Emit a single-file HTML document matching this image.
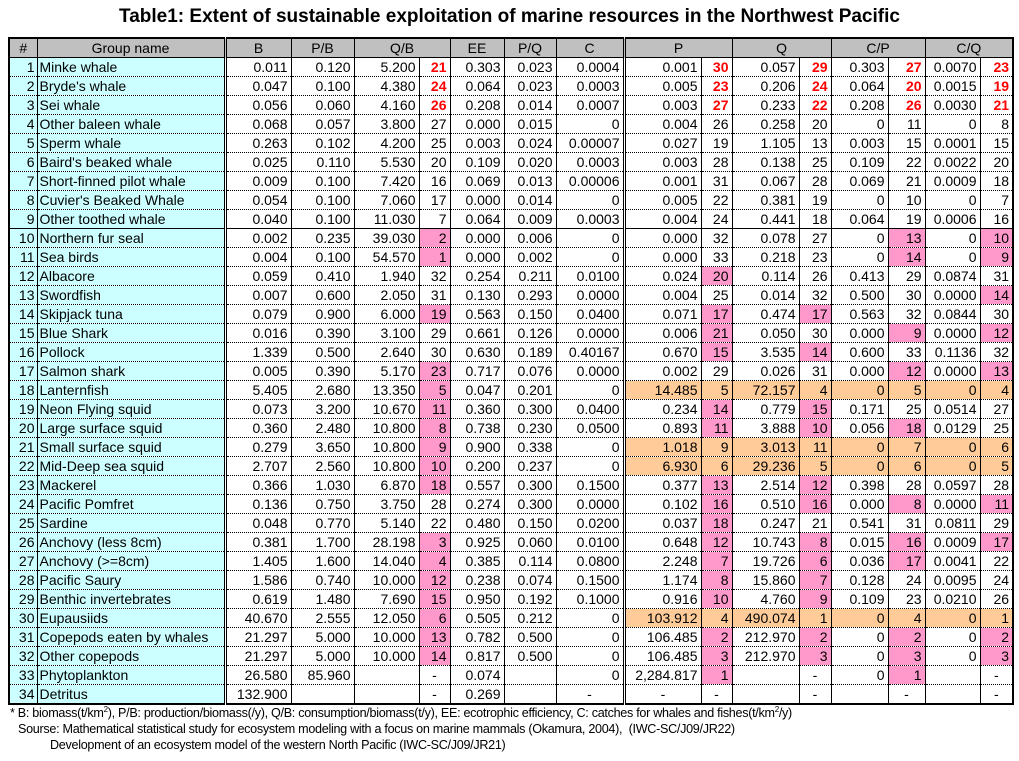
<!DOCTYPE html>
<html><head><meta charset="utf-8">
<style>
body{margin:0;width:1019px;height:761px;background:#fff;position:relative;overflow:hidden;font-family:"Liberation Sans",Arial,sans-serif;}
.t{position:absolute;left:0;top:6px;width:1019px;text-align:center;font-weight:bold;font-size:19px;}
table{position:absolute;left:8px;top:37px;border-collapse:collapse;table-layout:fixed;width:1004px;font-size:14px;border:2px solid #000;}
td{height:18px;line-height:17px;padding:0 3px;border-left:1px solid #000;border-right:1px solid #000;border-bottom:1px dotted #000;text-align:right;white-space:nowrap;overflow:hidden;}
th{height:18px;font-weight:normal;background:#c0c0c0;border:1px solid #000;font-size:14px;padding:0;}
td.n{text-align:left;padding-left:2px;background:#ccffff;border-right:3px double #000;border-left:1px solid #000;}
td.h{background:#ccffff;padding-right:2px;}
td.c,th.c{border-right:3px double #000;}
th.nm{border-right:3px double #000;}
td.v{border-right:1px dotted #000;}
td.p{background:#ff99cc;}
td.o{background:#ffcc99;}
td.x{color:#f00;font-weight:bold;}
td.m{text-align:center;}
tr.sep td{border-bottom:1px solid #000;}
.f{position:absolute;left:10px;font-size:12.6px;letter-spacing:-0.3px;white-space:nowrap;}
</style></head><body>
<div class="t">Table1: Extent of sustainable exploitation of marine resources in the Northwest Pacific</div>
<table>
<colgroup><col style="width:28px"><col style="width:188px"><col style="width:66px"><col style="width:63px"><col style="width:65px"><col style="width:31px"><col style="width:54px"><col style="width:52px"><col style="width:68px"><col style="width:77px"><col style="width:31px"><col style="width:67px"><col style="width:32px"><col style="width:57px"><col style="width:37px"><col style="width:55px"><col style="width:33px"></colgroup>
<tr><th>#</th><th class="nm">Group name</th><th>B</th><th>P/B</th><th colspan="2">Q/B</th><th>EE</th><th>P/Q</th><th class="c">C</th><th colspan="2">P</th><th colspan="2">Q</th><th colspan="2">C/P</th><th colspan="2">C/Q</th></tr>
<tr><td class="h">1</td><td class="n">Minke whale</td><td>0.011</td><td>0.120</td><td class="v">5.200</td><td class="x">21</td><td>0.303</td><td>0.023</td><td class="c">0.0004</td><td class="v">0.001</td><td class="x">30</td><td class="v">0.057</td><td class="x">29</td><td class="v">0.303</td><td class="x">27</td><td class="v">0.0070</td><td class="x">23</td></tr>
<tr><td class="h">2</td><td class="n">Bryde's whale</td><td>0.047</td><td>0.100</td><td class="v">4.380</td><td class="x">24</td><td>0.064</td><td>0.023</td><td class="c">0.0003</td><td class="v">0.005</td><td class="x">23</td><td class="v">0.206</td><td class="x">24</td><td class="v">0.064</td><td class="x">20</td><td class="v">0.0015</td><td class="x">19</td></tr>
<tr><td class="h">3</td><td class="n">Sei whale</td><td>0.056</td><td>0.060</td><td class="v">4.160</td><td class="x">26</td><td>0.208</td><td>0.014</td><td class="c">0.0007</td><td class="v">0.003</td><td class="x">27</td><td class="v">0.233</td><td class="x">22</td><td class="v">0.208</td><td class="x">26</td><td class="v">0.0030</td><td class="x">21</td></tr>
<tr><td class="h">4</td><td class="n">Other baleen whale</td><td>0.068</td><td>0.057</td><td class="v">3.800</td><td>27</td><td>0.000</td><td>0.015</td><td class="c">0</td><td class="v">0.004</td><td>26</td><td class="v">0.258</td><td>20</td><td class="v">0</td><td>11</td><td class="v">0</td><td>8</td></tr>
<tr><td class="h">5</td><td class="n">Sperm whale</td><td>0.263</td><td>0.102</td><td class="v">4.200</td><td>25</td><td>0.003</td><td>0.024</td><td class="c">0.00007</td><td class="v">0.027</td><td>19</td><td class="v">1.105</td><td>13</td><td class="v">0.003</td><td>15</td><td class="v">0.0001</td><td>15</td></tr>
<tr><td class="h">6</td><td class="n">Baird's beaked whale</td><td>0.025</td><td>0.110</td><td class="v">5.530</td><td>20</td><td>0.109</td><td>0.020</td><td class="c">0.0003</td><td class="v">0.003</td><td>28</td><td class="v">0.138</td><td>25</td><td class="v">0.109</td><td>22</td><td class="v">0.0022</td><td>20</td></tr>
<tr><td class="h">7</td><td class="n">Short-finned pilot whale</td><td>0.009</td><td>0.100</td><td class="v">7.420</td><td>16</td><td>0.069</td><td>0.013</td><td class="c">0.00006</td><td class="v">0.001</td><td>31</td><td class="v">0.067</td><td>28</td><td class="v">0.069</td><td>21</td><td class="v">0.0009</td><td>18</td></tr>
<tr><td class="h">8</td><td class="n">Cuvier's Beaked Whale</td><td>0.054</td><td>0.100</td><td class="v">7.060</td><td>17</td><td>0.000</td><td>0.014</td><td class="c">0</td><td class="v">0.005</td><td>22</td><td class="v">0.381</td><td>19</td><td class="v">0</td><td>10</td><td class="v">0</td><td>7</td></tr>
<tr class="sep"><td class="h">9</td><td class="n">Other toothed whale</td><td>0.040</td><td>0.100</td><td class="v">11.030</td><td>7</td><td>0.064</td><td>0.009</td><td class="c">0.0003</td><td class="v">0.004</td><td>24</td><td class="v">0.441</td><td>18</td><td class="v">0.064</td><td>19</td><td class="v">0.0006</td><td>16</td></tr>
<tr><td class="h">10</td><td class="n">Northern fur seal</td><td>0.002</td><td>0.235</td><td class="v">39.030</td><td class="p">2</td><td>0.000</td><td>0.006</td><td class="c">0</td><td class="v">0.000</td><td>32</td><td class="v">0.078</td><td>27</td><td class="v">0</td><td class="p">13</td><td class="v">0</td><td class="p">10</td></tr>
<tr><td class="h">11</td><td class="n">Sea birds</td><td>0.004</td><td>0.100</td><td class="v">54.570</td><td class="p">1</td><td>0.000</td><td>0.002</td><td class="c">0</td><td class="v">0.000</td><td>33</td><td class="v">0.218</td><td>23</td><td class="v">0</td><td class="p">14</td><td class="v">0</td><td class="p">9</td></tr>
<tr><td class="h">12</td><td class="n">Albacore</td><td>0.059</td><td>0.410</td><td class="v">1.940</td><td>32</td><td>0.254</td><td>0.211</td><td class="c">0.0100</td><td class="v">0.024</td><td class="p">20</td><td class="v">0.114</td><td>26</td><td class="v">0.413</td><td>29</td><td class="v">0.0874</td><td>31</td></tr>
<tr><td class="h">13</td><td class="n">Swordfish</td><td>0.007</td><td>0.600</td><td class="v">2.050</td><td>31</td><td>0.130</td><td>0.293</td><td class="c">0.0000</td><td class="v">0.004</td><td>25</td><td class="v">0.014</td><td>32</td><td class="v">0.500</td><td>30</td><td class="v">0.0000</td><td class="p">14</td></tr>
<tr><td class="h">14</td><td class="n">Skipjack tuna</td><td>0.079</td><td>0.900</td><td class="v">6.000</td><td class="p">19</td><td>0.563</td><td>0.150</td><td class="c">0.0400</td><td class="v">0.071</td><td class="p">17</td><td class="v">0.474</td><td class="p">17</td><td class="v">0.563</td><td>32</td><td class="v">0.0844</td><td>30</td></tr>
<tr><td class="h">15</td><td class="n">Blue Shark</td><td>0.016</td><td>0.390</td><td class="v">3.100</td><td>29</td><td>0.661</td><td>0.126</td><td class="c">0.0000</td><td class="v">0.006</td><td class="p">21</td><td class="v">0.050</td><td>30</td><td class="v">0.000</td><td class="p">9</td><td class="v">0.0000</td><td class="p">12</td></tr>
<tr><td class="h">16</td><td class="n">Pollock</td><td>1.339</td><td>0.500</td><td class="v">2.640</td><td>30</td><td>0.630</td><td>0.189</td><td class="c">0.40167</td><td class="v">0.670</td><td class="p">15</td><td class="v">3.535</td><td class="p">14</td><td class="v">0.600</td><td>33</td><td class="v">0.1136</td><td>32</td></tr>
<tr><td class="h">17</td><td class="n">Salmon shark</td><td>0.005</td><td>0.390</td><td class="v">5.170</td><td class="p">23</td><td>0.717</td><td>0.076</td><td class="c">0.0000</td><td class="v">0.002</td><td>29</td><td class="v">0.026</td><td>31</td><td class="v">0.000</td><td class="p">12</td><td class="v">0.0000</td><td class="p">13</td></tr>
<tr><td class="h">18</td><td class="n">Lanternfish</td><td>5.405</td><td>2.680</td><td class="v">13.350</td><td class="p">5</td><td>0.047</td><td>0.201</td><td class="c">0</td><td class="v o">14.485</td><td class="o">5</td><td class="v o">72.157</td><td class="o">4</td><td class="v o">0</td><td class="o">5</td><td class="v o">0</td><td class="o">4</td></tr>
<tr><td class="h">19</td><td class="n">Neon Flying squid</td><td>0.073</td><td>3.200</td><td class="v">10.670</td><td class="p">11</td><td>0.360</td><td>0.300</td><td class="c">0.0400</td><td class="v">0.234</td><td class="p">14</td><td class="v">0.779</td><td class="p">15</td><td class="v">0.171</td><td>25</td><td class="v">0.0514</td><td>27</td></tr>
<tr><td class="h">20</td><td class="n">Large surface squid</td><td>0.360</td><td>2.480</td><td class="v">10.800</td><td class="p">8</td><td>0.738</td><td>0.230</td><td class="c">0.0500</td><td class="v">0.893</td><td class="p">11</td><td class="v">3.888</td><td class="p">10</td><td class="v">0.056</td><td class="p">18</td><td class="v">0.0129</td><td>25</td></tr>
<tr><td class="h">21</td><td class="n">Small surface squid</td><td>0.279</td><td>3.650</td><td class="v">10.800</td><td class="p">9</td><td>0.900</td><td>0.338</td><td class="c">0</td><td class="v o">1.018</td><td class="o">9</td><td class="v o">3.013</td><td class="o">11</td><td class="v o">0</td><td class="o">7</td><td class="v o">0</td><td class="o">6</td></tr>
<tr><td class="h">22</td><td class="n">Mid-Deep sea squid</td><td>2.707</td><td>2.560</td><td class="v">10.800</td><td class="p">10</td><td>0.200</td><td>0.237</td><td class="c">0</td><td class="v o">6.930</td><td class="o">6</td><td class="v o">29.236</td><td class="o">5</td><td class="v o">0</td><td class="o">6</td><td class="v o">0</td><td class="o">5</td></tr>
<tr><td class="h">23</td><td class="n">Mackerel</td><td>0.366</td><td>1.030</td><td class="v">6.870</td><td class="p">18</td><td>0.557</td><td>0.300</td><td class="c">0.1500</td><td class="v">0.377</td><td class="p">13</td><td class="v">2.514</td><td class="p">12</td><td class="v">0.398</td><td>28</td><td class="v">0.0597</td><td>28</td></tr>
<tr><td class="h">24</td><td class="n">Pacific Pomfret</td><td>0.136</td><td>0.750</td><td class="v">3.750</td><td>28</td><td>0.274</td><td>0.300</td><td class="c">0.0000</td><td class="v">0.102</td><td class="p">16</td><td class="v">0.510</td><td class="p">16</td><td class="v">0.000</td><td class="p">8</td><td class="v">0.0000</td><td class="p">11</td></tr>
<tr><td class="h">25</td><td class="n">Sardine</td><td>0.048</td><td>0.770</td><td class="v">5.140</td><td>22</td><td>0.480</td><td>0.150</td><td class="c">0.0200</td><td class="v">0.037</td><td class="p">18</td><td class="v">0.247</td><td>21</td><td class="v">0.541</td><td>31</td><td class="v">0.0811</td><td>29</td></tr>
<tr><td class="h">26</td><td class="n">Anchovy (less 8cm)</td><td>0.381</td><td>1.700</td><td class="v">28.198</td><td class="p">3</td><td>0.925</td><td>0.060</td><td class="c">0.0100</td><td class="v">0.648</td><td class="p">12</td><td class="v">10.743</td><td class="p">8</td><td class="v">0.015</td><td class="p">16</td><td class="v">0.0009</td><td class="p">17</td></tr>
<tr><td class="h">27</td><td class="n">Anchovy (&gt;=8cm)</td><td>1.405</td><td>1.600</td><td class="v">14.040</td><td class="p">4</td><td>0.385</td><td>0.114</td><td class="c">0.0800</td><td class="v">2.248</td><td class="p">7</td><td class="v">19.726</td><td class="p">6</td><td class="v">0.036</td><td class="p">17</td><td class="v">0.0041</td><td>22</td></tr>
<tr><td class="h">28</td><td class="n">Pacific Saury</td><td>1.586</td><td>0.740</td><td class="v">10.000</td><td class="p">12</td><td>0.238</td><td>0.074</td><td class="c">0.1500</td><td class="v">1.174</td><td class="p">8</td><td class="v">15.860</td><td class="p">7</td><td class="v">0.128</td><td>24</td><td class="v">0.0095</td><td>24</td></tr>
<tr><td class="h">29</td><td class="n">Benthic invertebrates</td><td>0.619</td><td>1.480</td><td class="v">7.690</td><td class="p">15</td><td>0.950</td><td>0.192</td><td class="c">0.1000</td><td class="v">0.916</td><td class="p">10</td><td class="v">4.760</td><td class="p">9</td><td class="v">0.109</td><td>23</td><td class="v">0.0210</td><td>26</td></tr>
<tr><td class="h">30</td><td class="n">Eupausiids</td><td>40.670</td><td>2.555</td><td class="v">12.050</td><td class="p">6</td><td>0.505</td><td>0.212</td><td class="c">0</td><td class="v o">103.912</td><td class="o">4</td><td class="v o">490.074</td><td class="o">1</td><td class="v o">0</td><td class="o">4</td><td class="v o">0</td><td class="o">1</td></tr>
<tr><td class="h">31</td><td class="n">Copepods eaten by whales</td><td>21.297</td><td>5.000</td><td class="v">10.000</td><td class="p">13</td><td>0.782</td><td>0.500</td><td class="c">0</td><td class="v">106.485</td><td class="p">2</td><td class="v">212.970</td><td class="p">2</td><td class="v">0</td><td class="p">2</td><td class="v">0</td><td class="p">2</td></tr>
<tr><td class="h">32</td><td class="n">Other copepods</td><td>21.297</td><td>5.000</td><td class="v">10.000</td><td class="p">14</td><td>0.817</td><td>0.500</td><td class="c">0</td><td class="v">106.485</td><td class="p">3</td><td class="v">212.970</td><td class="p">3</td><td class="v">0</td><td class="p">3</td><td class="v">0</td><td class="p">3</td></tr>
<tr><td class="h">33</td><td class="n">Phytoplankton</td><td>26.580</td><td>85.960</td><td class="v"></td><td class="m">-</td><td>0.074</td><td></td><td class="c">0</td><td class="v">2,284.817</td><td class="p">1</td><td class="v"></td><td class="m">-</td><td class="v">0</td><td class="p">1</td><td class="v"></td><td class="m">-</td></tr>
<tr><td class="h">34</td><td class="n">Detritus</td><td>132.900</td><td></td><td class="v"></td><td class="m">-</td><td>0.269</td><td></td><td class="c m">-</td><td class="v m">-</td><td class="m">-</td><td class="v"></td><td class="m">-</td><td class="v"></td><td class="m">-</td><td class="v"></td><td class="m">-</td></tr>
</table>
<div class="f" style="top:705px;">* B: biomass(t/km<sup style="font-size:8px">2</sup>), P/B: production/biomass(/y), Q/B: consumption/biomass(t/y), EE: ecotrophic efficiency, C: catches for whales and fishes(t/km<sup style="font-size:8px">2</sup>/y)</div>
<div class="f" style="top:722px;left:18px;">Sourse: Mathematical statistical study for ecosystem modeling with a focus on marine mammals (Okamura, 2004),&nbsp; (IWC-SC/J09/JR22)</div>
<div class="f" style="top:738px;left:50px;">Development of an ecosystem model of the western North Pacific (IWC-SC/J09/JR21)</div>
</body></html>
